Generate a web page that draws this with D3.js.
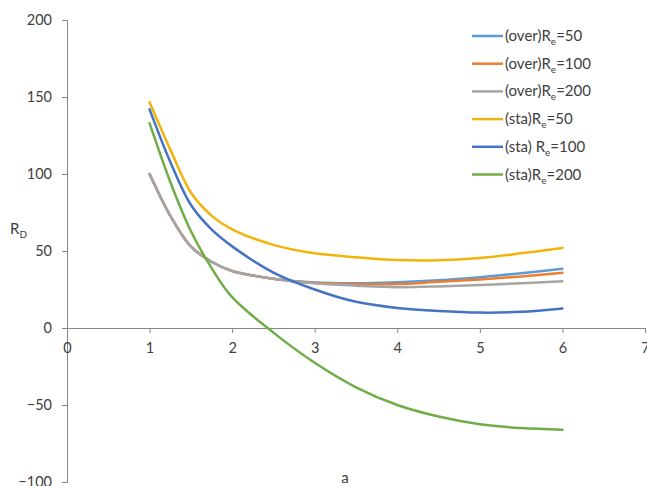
<!DOCTYPE html>
<html>
<head>
<meta charset="utf-8">
<script src="https://cdn.jsdelivr.net/npm/d3@7"></script>
<style>
  body { margin: 0; background: #fff; }
  svg text { font-family: Lato, 'Open Sans', sans-serif; fill: #404040; }
</style>
</head>
<body>
<div id="chart"></div>
<script>
const aValues = [1, 1.25, 1.5, 1.75, 2, 2.5, 3, 3.5, 4, 4.5, 5, 5.5, 6]

const over50 = [100, 73, 53, 43, 37, 32, 29.5, 29, 29.7, 31, 33, 35.5, 38.4]
const over100 = [100, 73, 53, 43, 37, 32, 29.2, 28.5, 28.5, 30, 31.5, 33.5, 35.8]
const over200 = [100, 73, 53, 43, 37, 32, 29, 27.5, 26.5, 27, 28, 29, 30.4]
const sta50 = [146.6, 116, 88, 73, 64, 54, 48.5, 46, 44.2, 44, 45.5, 48.5, 52]
const sta100 = [142, 108, 80, 64, 53, 36, 25, 17, 13, 11, 10, 10.5, 12.7]
const sta200 = [133, 95, 63, 39, 20, -3, -22.6, -38.5, -50, -57.5, -62.5, -65, -66]

const seriesNames = ['(over)', '(over)', '(over)', '(sta)', '(sta) ', '(sta)']
const seriesRe = ['50', '100', '200', '50', '100', '200']
const seriesValues = [over50, over100, over200, sta50, sta100, sta200]
const seriesColors = ['#5b9bd5', '#ed7d31', '#a5a5a5', '#f2b40a', '#4472c4', '#70ad47']

const xTicks = [0, 1, 2, 3, 4, 5, 6, 7]
const yTicks = [-100, -50, 0, 50, 100, 150, 200]

const width = 647
const height = 486

const svg = d3.select('#chart').append('svg')
  .attr('width', width)
  .attr('height', height)

const x = d3.scaleLinear().domain([0, 7]).range([67, 645])
const y = d3.scaleLinear().domain([-100, 200]).range([482, 20])

// y axis
const yAxis = svg.append('g')
  .attr('transform', 'translate(' + x(0) + ',0)')
  .call(d3.axisLeft(y).tickValues(yTicks).tickFormat(d3.format('d')).tickSize(5).tickPadding(10))
yAxis.select('.domain').attr('stroke', '#868686')
yAxis.selectAll('.tick line').attr('stroke', '#868686')
yAxis.selectAll('.tick text').attr('font-size', 14.5).attr('fill', '#404040')
  .attr('font-family', 'Lato, sans-serif')

// x axis at y = 0
const xAxis = svg.append('g')
  .attr('transform', 'translate(0,' + y(0) + ')')
  .call(d3.axisBottom(x).tickValues(xTicks).tickFormat(d3.format('d')).tickSize(5).tickPadding(10).tickSizeOuter(0))
xAxis.select('.domain').attr('stroke', '#868686')
xAxis.selectAll('.tick line').attr('stroke', '#868686')
xAxis.selectAll('.tick text').attr('font-size', 14.5).attr('fill', '#404040')
  .attr('font-family', 'Lato, sans-serif')

// lines
const line = d3.line()
  .x((d, i) => x(aValues[i]))
  .y(d => y(d))
  .curve(d3.curveCatmullRom.alpha(0.5))

svg.append('g').selectAll('path')
  .data(seriesValues)
  .enter()
  .append('path')
  .attr('d', d => line(d))
  .attr('fill', 'none')
  .attr('stroke', (d, i) => seriesColors[i])
  .attr('stroke-width', 2.5)
  .attr('stroke-linecap', 'round')

// legend
const legend = svg.append('g')
  .attr('transform', 'translate(472,36)')

const rows = legend.selectAll('g')
  .data(seriesValues)
  .enter()
  .append('g')
  .attr('transform', (d, i) => 'translate(0,' + (i * 27.7) + ')')

rows.append('line')
  .attr('x1', 0).attr('x2', 31)
  .attr('stroke', (d, i) => seriesColors[i])
  .attr('stroke-width', 2.5)

const legendText = rows.append('text')
  .attr('x', 33)
  .attr('y', 5)
  .attr('font-size', 15)
  .attr('xml:space', 'preserve')
legendText.append('tspan').text((d, i) => seriesNames[i] + 'R')
legendText.append('tspan').attr('font-size', 10).attr('dy', 4).text('e')
legendText.append('tspan').attr('dy', -4).text((d, i) => '=' + seriesRe[i])

// axis titles
const yTitle = svg.append('text')
  .attr('x', 10)
  .attr('y', 234)
  .attr('font-size', 15)
yTitle.append('tspan').text('R')
yTitle.append('tspan').attr('font-size', 10).attr('dy', 4).text('D')

svg.append('text')
  .attr('x', 345)
  .attr('y', 483)
  .attr('text-anchor', 'middle')
  .attr('font-size', 15)
  .text('a')
</script>
</body>
</html>
